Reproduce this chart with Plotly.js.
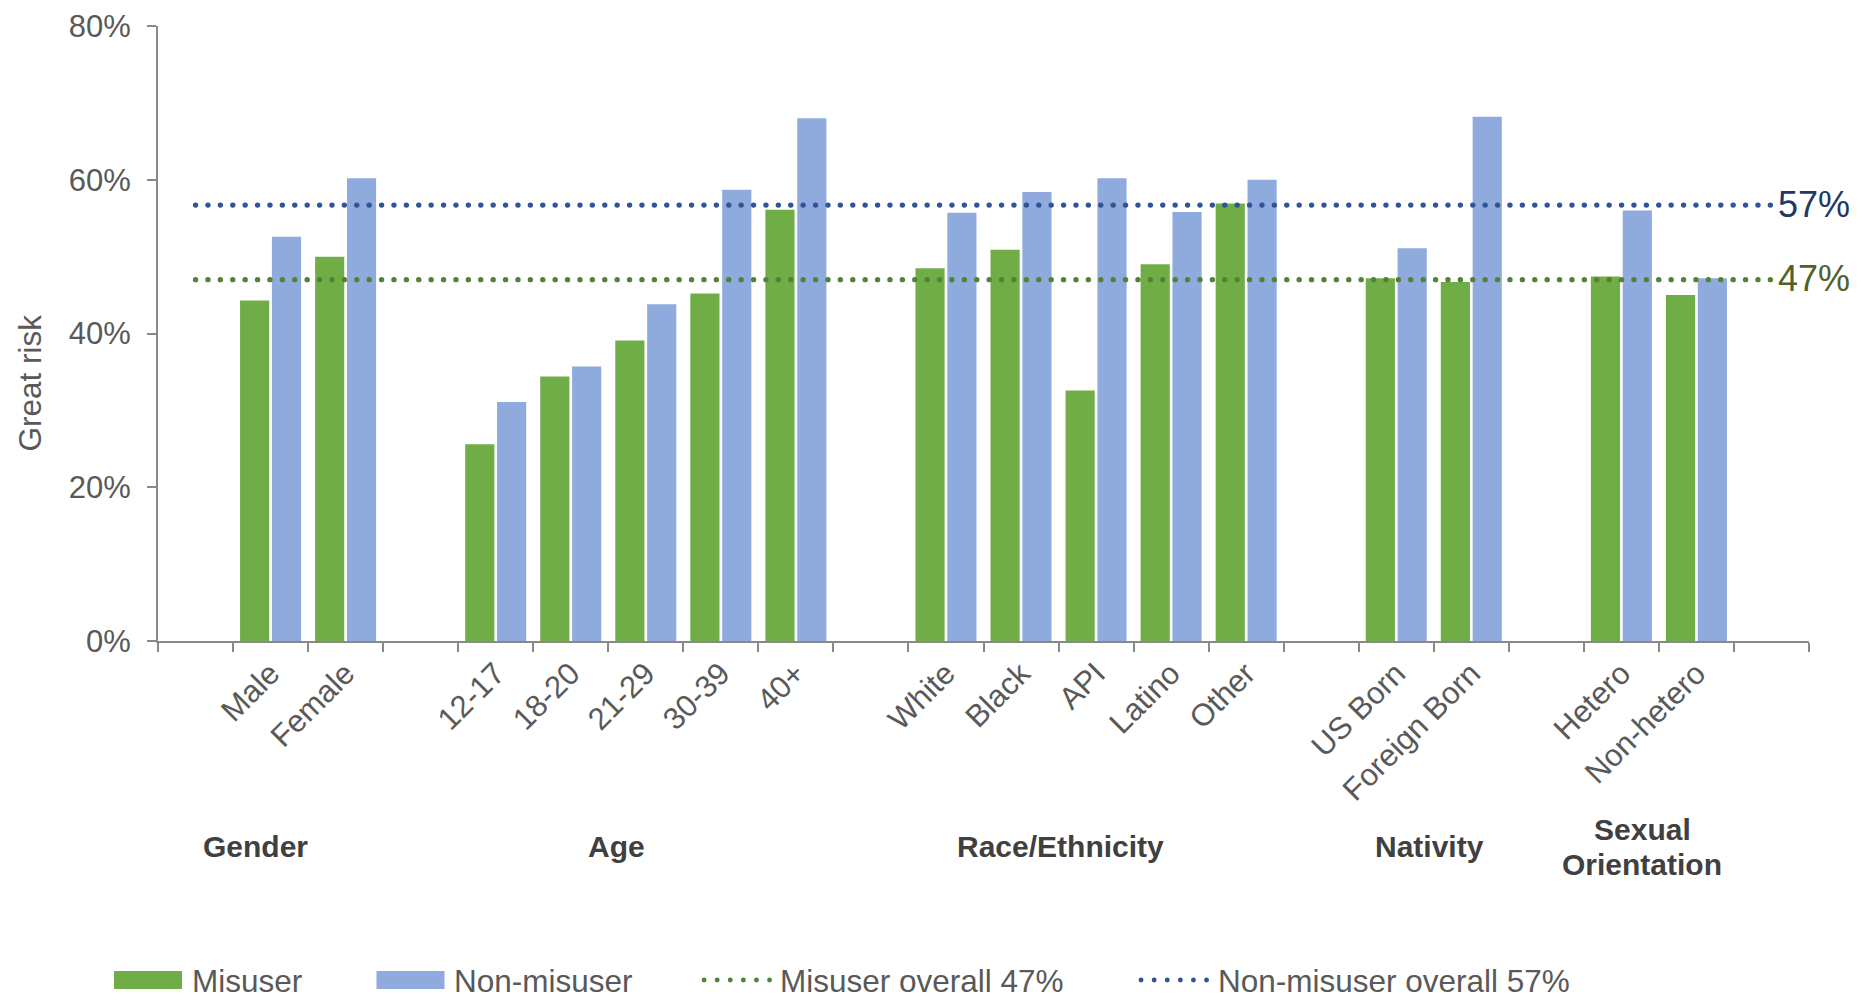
<!DOCTYPE html>
<html>
<head>
<meta charset="utf-8">
<script src="https://cdn.plot.ly/plotly-3.0.1.min.js"></script>
<style>
  html, body { margin: 0; padding: 0; background: #ffffff; }
  #chart { width: 1865px; height: 1008px; }
  /* round caps turn the zero-length dashes into round dots */
  .js-line, .shapelayer path { stroke-linecap: round; }
</style>
</head>
<body>
<div id="chart"></div>
<script>
// Share rating the risk as "great", by respondent group (%)
const categories = ['Male', 'Female',
  '12-17', '18-20', '21-29', '30-39', '40+',
  'White', 'Black', 'API', 'Latino', 'Other',
  'US Born', 'Foreign Born',
  'Hetero', 'Non-hetero'];
const misuser = [44.3, 50.0,
  25.6, 34.4, 39.1, 45.2, 56.1,
  48.5, 50.9, 32.6, 49.0, 56.9,
  47.2, 46.7,
  47.4, 45.0];
const nonMisuser = [52.6, 60.2,
  31.1, 35.7, 43.8, 58.7, 68.0,
  55.7, 58.4, 60.2, 55.8, 60.0,
  51.1, 68.2,
  56.0, 47.2];
const groupNames = ['Gender', 'Age', 'Race/Ethnicity', 'Nativity', ['Sexual', 'Orientation']];
const groupSizes = [2, 5, 5, 2, 2];
const misuserOverall = 47.0;
const nonMisuserOverall = 56.7;
const yTicks = [0, 20, 40, 60, 80];

const GREEN = '#70AD47', BLUE = '#8FAADC';
const GREEN_DOT = '#538135', BLUE_DOT = '#2F5597';
const FONT = 'Liberation Sans, Arial, Helvetica, sans-serif';

// Category axis with an empty slot before, between and after the groups
const axisCats = [], misAxis = [], nonAxis = [];
let k = 0;
function spacer(n) { axisCats.push(' '.repeat(n)); misAxis.push(null); nonAxis.push(null); }
spacer(1);
groupSizes.forEach((size, g) => {
  for (let i = 0; i < size; i++, k++) {
    axisCats.push(categories[k]);
    misAxis.push(misuser[k]);
    nonAxis.push(nonMisuser[k]);
  }
  spacer(g + 2);
});
const firstCat = axisCats[0], lastCat = axisCats[axisCats.length - 1];

// plot frame in page pixels, used to place the free-standing texts
const M = { l: 158, r: 56, t: 26, b: 367 };
const W = 1865, H = 1008;
const PL = M.l, PR = W - M.r, PT = M.t, PB = H - M.b;
const px = x => (x - PL) / (PR - PL);
const py = y => (PB - y) / (PB - PT);

const traces = [
  { type: 'bar', name: 'Misuser', x: axisCats, y: misAxis,
    marker: { color: GREEN, line: { width: 0 } } },
  { type: 'bar', name: 'Non-misuser', x: axisCats, y: nonAxis,
    marker: { color: BLUE, line: { width: 0 } } },
  { type: 'scatter', mode: 'lines', name: 'Misuser overall',
    x: [firstCat, lastCat], y: [misuserOverall, misuserOverall],
    line: { color: GREEN_DOT, width: 5.3, dash: '0.1px,12.3px' } },
  { type: 'scatter', mode: 'lines', name: 'Non-misuser overall',
    x: [firstCat, lastCat], y: [nonMisuserOverall, nonMisuserOverall],
    line: { color: BLUE_DOT, width: 5.3, dash: '0.1px,12.3px' } }
];

const annotations = [];
// group captions under the category labels
const groupX = [0.80, 5.61, 11.53, 16.44, 19.28];
const groupFont = { family: FONT, size: 30, color: '#404040' };
groupNames.forEach((name, i) => {
  const lines = Array.isArray(name) ? name : [name];
  const ys = lines.length === 2 ? [829, 864] : [846];
  lines.forEach((t, j) => {
    annotations.push({ text: '<b>' + t + '</b>', xref: 'x', yref: 'paper',
      x: groupX[i], y: py(ys[j]), xanchor: 'center', yanchor: 'middle',
      showarrow: false, font: groupFont });
  });
});
// value labels at the right end of the overall lines
[[nonMisuserOverall, '#1F3864'], [misuserOverall, '#4F6228']].forEach(([v, c]) => {
  annotations.push({ text: Math.round(v) + '%', xref: 'paper', yref: 'y',
    x: px(1776), y: v, xanchor: 'left', yanchor: 'middle', yshift: 1,
    showarrow: false, font: { family: FONT, size: 36, color: c } });
});
// y axis caption
annotations.push({ text: 'Great risk', textangle: -90, xref: 'paper', yref: 'paper',
  x: px(29), y: py(383.5), xanchor: 'center', yanchor: 'middle', showarrow: false,
  font: { family: FONT, size: 31.5, color: '#595959' } });

// legend row
const legendY = 980;
const shapes = [
  { type: 'rect', xref: 'paper', yref: 'paper', x0: px(114), x1: px(182),
    y0: py(legendY - 9), y1: py(legendY + 9), fillcolor: GREEN, line: { width: 0 } },
  { type: 'rect', xref: 'paper', yref: 'paper', x0: px(376.5), x1: px(444.5),
    y0: py(legendY - 9), y1: py(legendY + 9), fillcolor: BLUE, line: { width: 0 } },
  { type: 'line', xref: 'paper', yref: 'paper', x0: px(704), x1: px(770), y0: py(legendY), y1: py(legendY),
    line: { color: GREEN_DOT, width: 4.8, dash: '0.1px,13px' } },
  { type: 'line', xref: 'paper', yref: 'paper', x0: px(1141), x1: px(1207), y0: py(legendY), y1: py(legendY),
    line: { color: BLUE_DOT, width: 4.8, dash: '0.1px,13px' } }
];
[['Misuser', 190], ['Non-misuser', 452],
 ['Misuser overall ' + Math.round(misuserOverall) + '%', 778],
 ['Non-misuser overall ' + Math.round(nonMisuserOverall) + '%', 1216]].forEach(([t, x]) => {
  annotations.push({ text: t, xref: 'paper', yref: 'paper', x: px(x), y: py(legendY + 1),
    xanchor: 'left', yanchor: 'middle', showarrow: false,
    font: { family: FONT, size: 31.5, color: '#595959' } });
});
// slide number at the bottom edge
annotations.push({ text: '15', xref: 'paper', yref: 'paper', x: px(1762), y: py(1001),
  xanchor: 'center', yanchor: 'top', showarrow: false,
  font: { family: FONT, size: 24, color: '#8C8C8C' } });

const layout = {
  width: W, height: H,
  margin: M,
  paper_bgcolor: '#ffffff', plot_bgcolor: '#ffffff',
  showlegend: false,
  barmode: 'group', bargap: 0.151, bargroupgap: 0.085,
  font: { family: FONT, color: '#595959' },
  xaxis: {
    type: 'category', categoryorder: 'array', categoryarray: axisCats,
    tickson: 'boundaries', ticks: 'outside', ticklen: 9, tickwidth: 2, tickcolor: '#898989',
    showline: true, linecolor: '#898989', linewidth: 2,
    showgrid: false, zeroline: false,
    tickangle: -45, tickfont: { family: FONT, size: 31, color: '#595959' },
    range: [-0.5, axisCats.length - 0.5]
  },
  yaxis: {
    range: [0, 80], tickmode: 'array', tickvals: yTicks,
    ticktext: yTicks.map(v => v + '%'),
    ticks: 'outside', ticklen: 9, tickwidth: 2, tickcolor: '#898989',
    showline: true, linecolor: '#898989', linewidth: 2,
    showgrid: false, zeroline: false,
    ticklabelstandoff: 10,
    tickfont: { family: FONT, size: 31, color: '#595959' }
  },
  annotations: annotations,
  shapes: shapes
};

Plotly.newPlot('chart', traces, layout, { displayModeBar: false, staticPlot: true });
</script>
</body>
</html>
